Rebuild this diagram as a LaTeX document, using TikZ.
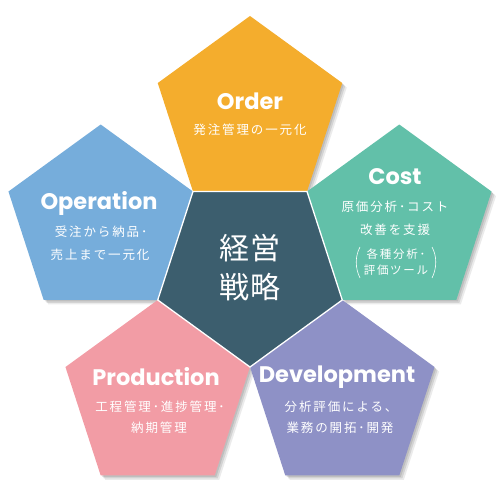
\documentclass[tikz,border=0pt]{standalone}
\usepackage{fontspec}
\newfontfamily\titlef{Poppins}
\newfontfamily\jp{Noto Sans CJK JP}[LetterSpace=15]
\newfontfamily\jpc{Noto Sans CJK JP}[LetterSpace=6]
\definecolor{orderc}{HTML}{F4AD2D}
\definecolor{costc}{HTML}{62C0A9}
\definecolor{operc}{HTML}{76ADDB}
\definecolor{prodc}{HTML}{F29CA5}
\definecolor{devc}{HTML}{8E91C6}
\definecolor{centc}{HTML}{3C5E6E}
\newcommand\mypentpath[4]{[shift={(#1,#2)}] (#3:#4) -- (#3+72:#4) -- (#3+144:#4) -- (#3+216:#4) -- (#3+288:#4) -- cycle}
\newcommand\mypentshadow[3]{%
  \fill[black,opacity=.10] \mypentpath{#1+1.5}{#2+1.5}{#3}{97};
  \fill[black,opacity=.10] \mypentpath{#1+3}{#2+3}{#3}{97};
  \fill[black,opacity=.08] \mypentpath{#1+4.5}{#2+4.5}{#3}{97};}
\tikzset{
  ttl/.style={font=\titlef\bfseries\fontsize{22.5}{22.5}\selectfont, text=white, inner sep=0pt},
  sub/.style={font=\jp\fontsize{12.5}{12.5}\selectfont, text=white, inner sep=0pt},
  smallsub/.style={font=\jp\fontsize{11.5}{11.5}\selectfont, text=white, inner sep=0pt},
  ctr/.style={font=\jpc\fontsize{30}{30}\selectfont, text=white, inner sep=0pt},
}
\begin{document}
\begin{tikzpicture}[x=1pt,y=-1pt]
\useasboundingbox (0,0) rectangle (500,500);
% shadows
\mypentshadow{250}{113}{270}
\mypentshadow{399.3}{221.5}{342}
\mypentshadow{100.7}{221.5}{198}
\mypentshadow{157.7}{397}{126}
\mypentshadow{342.3}{397}{54}
% outer pentagons
\fill[orderc] \mypentpath{250}{113}{270}{97};
\fill[costc] \mypentpath{399.3}{221.5}{342}{97};
\fill[operc] \mypentpath{100.7}{221.5}{198}{97};
\fill[prodc] \mypentpath{157.7}{397}{126}{97};
\fill[devc] \mypentpath{342.3}{397}{54}{97};
% centre
\filldraw[fill=centc, draw=white, line width=1.3pt, line join=miter] \mypentpath{250}{270}{90}{97};
% texts
\node[ttl] (t1) at (250,101) {Order};
\node[sub] (s1) at (250,130) {発注管理の一元化};
\node[ttl] (t2) at (395,177) {Cost};
\node[sub] (s2a) at (395,207) {原価分析･コスト};
\node[sub] (s2b) at (395,230) {改善を支援};
\node[smallsub] (s2c) at (396,254) {各種分析･};
\node[smallsub] (s2d) at (396,270) {評価ツール};
\draw[white, line width=0.6pt] (360,247) .. controls (355,256) and (355,268) .. (360,278);
\draw[white, line width=0.6pt] (432,247) .. controls (437,256) and (437,268) .. (432,278);
\node[ttl] (t3) at (99,203) {Operation};
\node[sub] (s3a) at (101,232) {受注から納品･};
\node[sub] (s3b) at (100,255) {売上まで一元化};
\node[ttl] (t4) at (156,377) {Production};
\node[sub] (s4a) at (160,407) {工程管理･進捗管理･};
\node[sub] (s4b) at (159,428) {納期管理};
\node[ttl] (t5) at (337,377) {Development};
\node[sub] (s5a) at (341,407) {分析評価による、};
\node[sub] (s5b) at (340,428) {業務の開拓･開発};
\node[ctr] (c1) at (250,248) {経営};
\node[ctr] (c2) at (250,287) {戦略};
\end{tikzpicture}
\end{document}
